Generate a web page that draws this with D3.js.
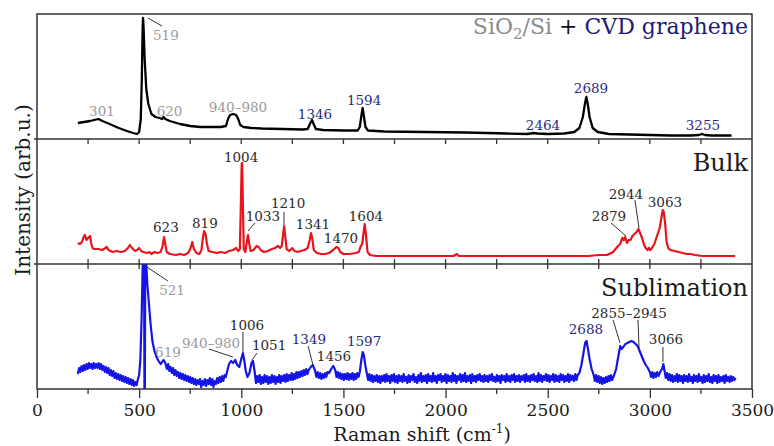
<!DOCTYPE html>
<html>
<head>
<meta charset="utf-8">
<script src="https://cdn.jsdelivr.net/npm/d3@7"></script>
<style>
  body { margin: 0; background: #fff; }
  svg { font-family: "DejaVu Serif", serif; }
</style>
</head>
<body>
<div id="chart"></div>
<script>
// x ticks (Raman shift, cm-1)
const xMajorTicks = [0, 500, 1000, 1500, 2000, 2500, 3000, 3500];
const xMinorTicks = [250, 750, 1250, 1750, 2250, 2750, 3250];

// SiO2/Si + CVD graphene spectrum [shift, intensity]
const grapheneSpectrum = [
  [200,16],[230,17],[260,18],[290,19.5],[301,20],[320,18],[350,15.5],[400,11],[440,8],[470,6],[490,5],
  [500,7],[508,20],[513,60],[517,110],[519,121],[522,110],[527,80],[535,50],[545,35],[560,25],[580,22],
  [600,21],[612,20],[620,22],[628,20],[650,18],[700,15],[750,13],[800,12],[850,12],[900,12],[925,13],
  [935,20],[945,24],[960,25],[975,24],[985,20],[995,14],[1010,12],[1050,11],[1100,10.5],[1200,10],
  [1300,9.5],[1325,10],[1338,16],[1346,19],[1354,15],[1365,10],[1400,9],[1500,8.5],[1570,8.5],[1580,12],
  [1587,22],[1594,31],[1600,23],[1608,12],[1620,8.5],[1700,7.5],[1900,7],[2100,6.5],[2300,5.5],[2400,5],
  [2430,6],[2450,5.5],[2500,5],[2580,5.5],[2630,7],[2655,11],[2672,22],[2682,35],[2689,42],[2696,35],
  [2705,22],[2720,11],[2745,7],[2800,5],[2900,4.5],[3000,4],[3100,3.5],[3200,3.5],[3240,4],[3255,5],
  [3270,4],[3300,3.5],[3400,3.5]
];

// Bulk spectrum
const bulkSpectrum = [
  [200,21],[210,20],[220,22],[228,27],[235,29],[242,24],[250,26],[260,28],[266,20],[272,16],[280,15],
  [300,15],[320,14],[335,16],[342,17],[350,14],[370,12],[390,13],[410,12],[430,13],[445,16],[455,19],
  [465,16],[480,13],[490,14],[500,16],[510,13],[520,12],[540,11],[550,12],[560,10],[575,12],[590,11],
  [605,12],[615,18],[622,27],[628,20],[635,12],[650,10],[680,9],[700,10],[720,9],[740,11],[752,16],
  [760,22],[768,15],[780,11],[795,10],[805,14],[812,26],[818,33],[825,30],[832,20],[840,13],[860,12],
  [880,11],[900,12],[920,11],[940,13],[960,14],[975,16],[985,13],[993,15],[998,60],[1002,100],[1004,101],
  [1007,70],[1012,15],[1020,12],[1027,22],[1033,29],[1039,20],[1046,13],[1060,14],[1075,18],[1085,17],
  [1095,14],[1110,12],[1130,13],[1150,15],[1165,16],[1180,18],[1190,16],[1198,18],[1205,30],[1210,38],
  [1215,28],[1222,15],[1235,13],[1250,16],[1260,13],[1275,12],[1290,13],[1310,14],[1325,16],[1335,24],
  [1341,31],[1347,26],[1355,14],[1370,11],[1390,10],[1410,10],[1430,11],[1450,14],[1465,17],[1475,16],
  [1485,12],[1500,10],[1530,10],[1560,11],[1575,12],[1585,18],[1592,20],[1598,30],[1604,40],[1610,30],
  [1618,12],[1630,9],[1660,8],[1700,8],[1800,8],[1900,8],[2000,8],[2040,8],[2055,10],[2065,8],[2100,8],
  [2200,8],[2300,8],[2400,8],[2500,8],[2600,8],[2700,8],[2750,9],[2790,9],[2820,12],[2840,17],[2855,20],
  [2865,26],[2872,24],[2879,27],[2888,21],[2896,24],[2905,24],[2915,28],[2925,30],[2935,32],[2944,35],
  [2952,31],[2962,26],[2972,19],[2980,16],[2988,14],[2995,16],[3002,14],[3010,16],[3022,20],[3035,28],
  [3048,36],[3058,48],[3063,54],[3068,52],[3075,40],[3082,22],[3090,16],[3100,14],[3120,13],[3140,12],
  [3160,11],[3180,10],[3200,10],[3220,9],[3260,8],[3300,8],[3350,8],[3400,8],[3417,8]
];

// Sublimation spectrum (noisy)
const sublimationSpectrum = [
  [200,15],[206,21],[212,17],[218,23],[224,18],[230,24],[236,19],[242,25],[248,20],[254,26],[260,21],
  [266,25],[272,20],[278,26],[284,21],[290,25],[296,21],[302,26],[308,20],[314,25],[320,19],[326,23],
  [332,17],[338,22],[344,16],[350,21],[356,14],[362,19],[368,13],[374,18],[380,11],[386,16],[392,10],
  [398,15],[404,9],[410,14],[416,8],[422,13],[428,7],[434,12],[440,6],[446,11],[452,5],[458,10],[464,4],
  [470,9],[476,3],[482,7],[488,4],[494,10],[500,14],[506,30],[512,70],[517,120],
  [521,150],[524,140],[526,0],[528,0],[530,140],[535,125],[540,105],[548,85],[556,65],[565,48],[575,38],
  [585,32],[595,28],[605,25],[612,27],[620,29],[628,26],[636,20],[642,25],[648,18],[654,22],[660,16],
  [666,21],[672,14],[678,19],[684,13],[690,17],[696,11],[702,16],[708,10],[714,15],[720,9],[726,14],
  [732,8],[738,13],[744,7],[750,12],[756,6],[762,11],[768,5],[774,10],[780,4],[786,9],[792,5],[798,10],
  [804,2],[810,8],[816,4],[822,10],[828,3],[834,9],[840,5],[846,11],[852,4],[858,10],[864,2],[870,8],
  [876,5],[882,11],[888,6],[894,12],[900,7],[906,13],[912,8],[918,14],[924,12],
  [930,17],[940,25],[950,28],[960,26],[970,29],[980,24],[990,22],[1000,30],[1008,36],[1015,28],
  [1022,18],[1030,12],[1040,16],[1050,26],[1057,28],[1065,18],[1072,6],[1078,13],[1084,7],[1090,14],
  [1096,5],[1102,12],[1108,6],[1114,14],[1120,7],[1126,13],[1132,5],[1138,12],[1144,6],[1150,14],
  [1156,7],[1162,13],[1168,5],[1174,12],[1180,7],[1186,14],[1192,6],[1198,13],[1204,8],[1210,14],
  [1216,7],[1222,15],[1228,8],[1234,14],[1240,9],[1246,16],[1252,9],[1258,15],[1264,10],[1270,17],
  [1276,11],[1282,17],[1288,12],[1294,18],[1300,13],[1306,19],[1312,14],[1318,20],[1324,15],
  [1330,19],[1340,22],[1350,24],[1360,19],[1368,12],[1374,17],[1380,11],[1386,16],[1392,10],[1398,15],
  [1404,11],[1410,16],[1416,12],[1422,17],[1430,16],[1440,20],[1450,23],[1460,19],[1466,12],[1472,17],
  [1478,11],[1484,16],[1490,10],[1496,15],[1502,9],[1508,15],[1514,10],[1520,16],[1526,9],[1532,15],
  [1538,10],[1544,16],[1550,9],[1556,15],[1562,10],[1568,16],[1574,12],[1580,17],[1587,28],[1594,37],
  [1600,34],[1607,24],[1615,15],[1621,9],[1627,15],[1633,8],[1639,14],[1645,7],[1651,13],[1657,8],
  [1663,14],[1669,7],[1675,13],[1681,6],[1687,13],[1693,8],[1699,14],[1705,7],[1711,15],[1717,8],
  [1723,13],[1729,6],[1735,14],[1741,8],[1747,15],[1753,7],[1759,13],[1765,6],[1771,14],[1777,8],
  [1783,13],[1789,7],[1795,15],[1801,8],[1807,12],[1813,6],[1819,14],[1825,7],[1831,13],[1837,9],
  [1843,15],[1849,7],[1855,12],[1861,6],[1867,14],[1873,8],[1879,16],[1885,7],[1891,13],[1897,8],
  [1903,14],[1909,6],[1915,15],[1921,8],[1927,13],[1933,7],[1939,16],[1945,8],[1951,13],[1957,6],
  [1963,14],[1969,9],[1975,15],[1981,7],[1987,13],[1993,8],[1999,15],[2005,6],[2011,14],[2017,8],
  [2023,13],[2029,7],[2035,16],[2041,8],[2047,14],[2053,6],[2059,13],[2065,9],[2071,15],[2077,7],
  [2083,14],[2089,8],[2095,16],[2101,7],[2107,13],[2113,8],[2119,14],[2125,6],[2131,15],[2137,8],
  [2143,13],[2149,7],[2155,14],[2161,9],[2167,15],[2173,8],[2179,13],[2185,7],[2191,14],[2197,8],
  [2203,13],[2209,7],[2215,14],[2221,9],[2227,15],[2233,8],[2239,12],[2245,7],[2251,14],[2257,8],
  [2263,13],[2269,6],[2275,14],[2281,9],[2287,13],[2293,7],[2299,15],[2305,8],[2311,13],[2317,7],
  [2323,14],[2329,9],[2335,15],[2341,7],[2347,13],[2353,8],[2359,14],[2365,7],[2371,13],[2377,9],
  [2383,14],[2389,7],[2395,15],[2401,8],[2407,13],[2413,7],[2419,14],[2425,9],[2431,15],[2437,8],
  [2443,13],[2449,7],[2455,16],[2461,8],[2467,14],[2473,7],[2479,13],[2485,9],[2491,15],[2497,8],
  [2503,14],[2509,7],[2515,13],[2521,9],[2527,15],[2533,7],[2539,14],[2545,8],[2551,13],[2557,7],
  [2563,15],[2569,9],[2575,14],[2581,7],[2587,13],[2593,8],[2599,15],[2605,7],[2611,14],[2617,9],
  [2623,13],[2629,8],[2635,15],[2641,9],[2647,14],
  [2655,16],[2665,24],[2675,36],[2683,46],[2690,48],[2697,40],[2705,30],[2715,20],[2725,14],[2731,8],
  [2737,14],[2743,7],[2749,13],[2755,6],[2761,12],[2767,5],[2773,11],[2779,6],[2785,12],[2791,7],
  [2797,13],[2803,8],[2809,14],[2815,9],[2825,14],[2835,20],[2845,32],[2855,43],[2862,40],[2870,42],
  [2880,45],[2890,46],[2900,47],[2910,48],[2920,47],[2930,45],[2940,43],[2950,38],[2960,33],[2970,28],
  [2980,24],[2990,21],[3000,17],[3006,12],[3012,17],[3018,11],[3024,16],[3030,12],[3036,17],[3042,13],
  [3050,17],[3060,20],[3066,25],[3072,18],[3078,11],[3084,16],[3090,9],[3096,15],[3102,8],[3108,14],
  [3114,7],[3120,13],[3126,8],[3132,15],[3138,7],[3144,14],[3150,8],[3156,13],[3162,6],[3168,14],
  [3174,8],[3180,13],[3186,7],[3192,15],[3198,8],[3204,12],[3210,6],[3216,14],[3222,8],[3228,13],
  [3234,7],[3240,15],[3246,8],[3252,12],[3258,6],[3264,14],[3270,7],[3276,13],[3282,8],[3288,15],
  [3294,7],[3300,12],[3306,6],[3312,14],[3318,8],[3324,13],[3330,6],[3336,14],[3342,7],[3348,12],
  [3354,8],[3360,13],[3366,6],[3372,14],[3378,8],[3384,12],[3390,7],[3396,13],[3402,8],[3408,12],
  [3414,9],[3420,11]
];

// peak labels: [text, shift, intensity, colour]
const grapheneLabels = [
  ["519", 568, 99, "si"], ["301", 318, 23, "si"], ["620", 649, 23, "si"], ["940–980", 984, 27, "si"],
  ["1346", 1361, 20, "g"], ["1594", 1601, 34, "g"], ["2464", 2477, 9, "g"], ["2689", 2712, 46, "g"],
  ["3255", 3260, 9, "g"]
];
const bulkLabels = [
  ["1004", 999, 102, "k"], ["623", 631, 32, "k"], ["819", 822, 36, "k"], ["1033", 1106, 43, "k"],
  ["1210", 1229, 56, "k"], ["1341", 1351, 35, "k"], ["1470", 1488, 21, "k"], ["1604", 1610, 43, "k"],
  ["2879", 2800, 43, "k"], ["2944", 2883, 65, "k"], ["3063", 3074, 57, "k"]
];
const sublimationLabels = [
  ["521", 661, 94, "si"], ["619", 641, 32, "si"], ["940–980", 852, 41, "si"], ["1006", 1028, 59, "k"],
  ["1051", 1136, 39, "k"], ["1349", 1331, 45, "g"], ["1456", 1454, 28, "k"], ["1597", 1601, 43, "g"],
  ["2688", 2687, 55, "g"], ["2855–2945", 2898, 71, "k"], ["3066", 3079, 45, "k"]
];

// leader lines: [x1, y1, x2, y2]
const grapheneLeaders = [[543, 121, 612, 113]];
const bulkLeaders = [[1033, 33, 1067, 41], [1209, 52, 1209, 39], [2810, 41, 2883, 28], [2927, 64, 2947, 36]];
const sublimationLeaders = [
  [538, 122, 641, 108], [842, 40, 959, 32], [1008, 57, 1008, 36], [1077, 36, 1052, 29],
  [1327, 43, 1351, 24], [2820, 69, 2854, 46], [2942, 69, 2947, 41], [3064, 42, 3064, 27]
];

const labelColors = { si: "#9a9a9a", g: "#2b2b7e", k: "#2a2a2a" };

const width = 774, height = 446;
const margin = { top: 14, left: 37, right: 22 };
const panelH = 125;

const svg = d3.select("#chart").append("svg")
  .attr("width", width)
  .attr("height", height);

const x = d3.scaleLinear().domain([0, 3500]).range([margin.left, width - margin.right]);

const panels = [
  { data: grapheneSpectrum, color: "#000", width: 2.3, labels: grapheneLabels, leaders: grapheneLeaders },
  { data: bulkSpectrum, color: "#e8141c", width: 2.2, labels: bulkLabels, leaders: bulkLeaders, name: "Bulk" },
  { data: sublimationSpectrum, color: "#1414e6", width: 2.2, labels: sublimationLabels, leaders: sublimationLeaders, name: "Sublimation" }
];

svg.append("defs").selectAll("clipPath")
  .data(panels)
  .join("clipPath")
  .attr("id", (d, i) => "clip" + i)
  .append("rect")
  .attr("x", x.range()[0])
  .attr("y", (d, i) => margin.top + i * panelH)
  .attr("width", x.range()[1] - x.range()[0])
  .attr("height", panelH);

panels.forEach((p, i) => {
  const top = margin.top + i * panelH;
  const y = d3.scaleLinear().domain([0, 125]).range([top + panelH, top]);

  const line = d3.line()
    .x(d => x(d[0]))
    .y(d => y(d[1]));

  svg.append("path")
    .datum(p.data)
    .attr("clip-path", `url(#clip${i})`)
    .attr("fill", "none")
    .attr("stroke", p.color)
    .attr("stroke-width", p.width)
    .attr("stroke-linejoin", "round")
    .attr("d", line);

  svg.append("g")
    .selectAll("line")
    .data(p.leaders)
    .join("line")
    .attr("x1", d => x(d[0])).attr("y1", d => y(d[1]))
    .attr("x2", d => x(d[2])).attr("y2", d => y(d[3]))
    .attr("stroke", "#333")
    .attr("stroke-width", 1);

  svg.append("g")
    .selectAll("text")
    .data(p.labels)
    .join("text")
    .attr("x", d => x(d[1]))
    .attr("y", d => y(d[2]))
    .attr("text-anchor", d => d[0] === "519" ? "start" : "middle")
    .attr("font-size", 13.5)
    .attr("fill", d => labelColors[d[3]])
    .text(d => d[0]);

  if (p.name) {
    svg.append("text")
      .attr("x", x.range()[1] - 4)
      .attr("y", top + 32)
      .attr("text-anchor", "end")
      .attr("font-size", 24)
      .attr("fill", "#1a1a1a")
      .text(p.name);
  }
});

// top panel title
const title = svg.append("text")
  .attr("x", x.range()[1] - 4)
  .attr("y", margin.top + 20)
  .attr("text-anchor", "end")
  .attr("font-size", 22);
title.append("tspan").attr("fill", "#8c8c8c").text("SiO");
title.append("tspan").attr("fill", "#8c8c8c").attr("font-size", 15).attr("dy", 5).text("2");
title.append("tspan").attr("fill", "#8c8c8c").attr("dy", -5).text("/Si");
title.append("tspan").attr("fill", "#111").text(" + ");
title.append("tspan").attr("fill", "#1c1c78").text("CVD graphene");

// internal ticks on panel borders
const allTicks = xMajorTicks.concat(xMinorTicks).filter(t => t > 0 && t < 3500);
const y1 = margin.top + panelH, y2 = margin.top + 2 * panelH;
svg.append("g").selectAll("line")
  .data(allTicks)
  .join("line")
  .attr("x1", d => x(d)).attr("x2", d => x(d))
  .attr("y1", y1).attr("y2", y1 + 5)
  .attr("stroke", "#333").attr("stroke-width", 1.3);
svg.append("g").selectAll("line")
  .data(allTicks)
  .join("line")
  .attr("x1", d => x(d)).attr("x2", d => x(d))
  .attr("y1", y2 - 5).attr("y2", y2 + 5)
  .attr("stroke", "#333").attr("stroke-width", 1.3);

// bottom axis
const bottom = margin.top + 3 * panelH;
const axis = svg.append("g")
  .attr("transform", `translate(0,${bottom})`)
  .call(d3.axisBottom(x).tickValues(xMajorTicks).tickSize(9).tickPadding(6).tickFormat(d3.format("d")));
axis.select(".domain").remove();
axis.selectAll("line").attr("stroke", "#333").attr("stroke-width", 1.3);
axis.selectAll("text")
  .attr("font-family", "DejaVu Serif, serif")
  .attr("font-size", 17)
  .attr("fill", "#1a1a1a");

svg.append("g").selectAll("line")
  .data(xMinorTicks)
  .join("line")
  .attr("x1", d => x(d)).attr("x2", d => x(d))
  .attr("y1", bottom).attr("y2", bottom + 5)
  .attr("stroke", "#333").attr("stroke-width", 1.3);

// frame and panel separators
svg.append("rect")
  .attr("x", x.range()[0])
  .attr("y", margin.top)
  .attr("width", x.range()[1] - x.range()[0])
  .attr("height", 3 * panelH)
  .attr("fill", "none")
  .attr("stroke", "#333")
  .attr("stroke-width", 1.5);
[y1, y2].forEach(yy => {
  svg.append("line")
    .attr("x1", x.range()[0] - 3).attr("x2", x.range()[1])
    .attr("y1", yy).attr("y2", yy)
    .attr("stroke", "#333").attr("stroke-width", 1.5);
});

// axis titles
const xTitle = svg.append("text")
  .attr("x", 422)
  .attr("y", 441)
  .attr("text-anchor", "middle")
  .attr("font-size", 19)
  .attr("fill", "#1a1a1a");
xTitle.append("tspan").text("Raman shift (cm");
xTitle.append("tspan").attr("font-size", 12).attr("dy", -8).text("-1");
xTitle.append("tspan").attr("dy", 8).text(")");

svg.append("text")
  .attr("transform", "translate(30,190) rotate(-90)")
  .attr("text-anchor", "middle")
  .attr("font-size", 20)
  .attr("fill", "#1a1a1a")
  .text("Intensity (arb.u.)");
</script>
</body>
</html>
